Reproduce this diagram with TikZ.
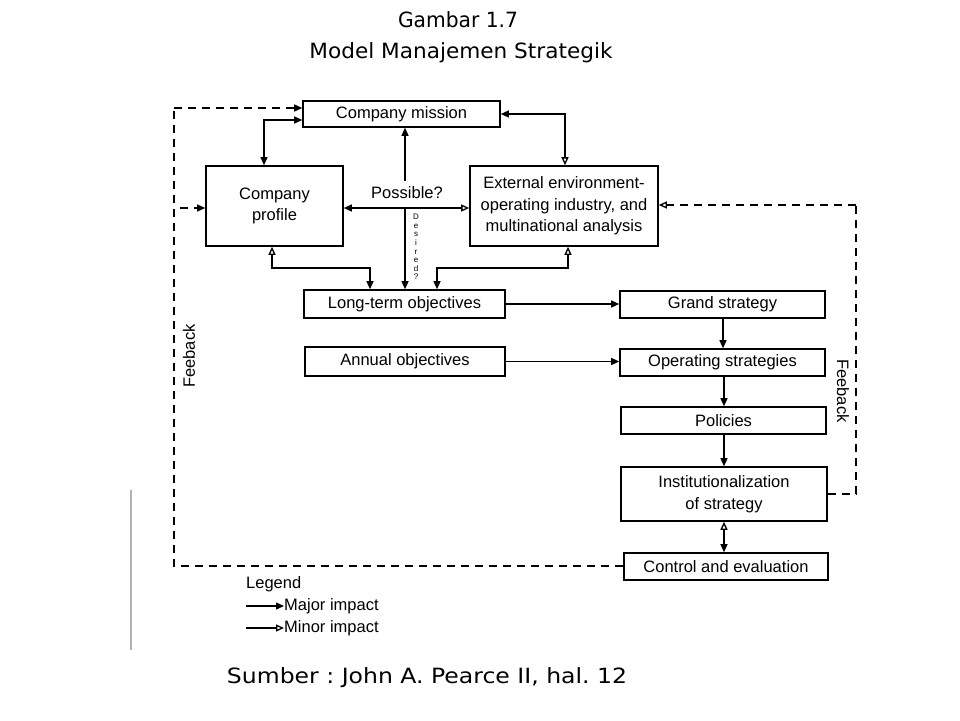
\documentclass[tikz,border=0pt]{standalone}
\usepackage{fontspec}
\setmainfont{Liberation Sans}
\newfontfamily\titlefont{DejaVu Sans}
\usetikzlibrary{arrows.meta}
\frenchspacing
\begin{document}
\begin{tikzpicture}[x=1pt,y=-1pt,
  box/.style={draw,line width=1.6pt,inner sep=0pt,align=center,font=\fontsize{16.5}{21.5}\selectfont},
  conn/.style={line width=1.3pt},
  maj/.style={conn,-{Triangle[length=8pt,width=7pt]}},
  minr/.style={conn,-{Triangle[open,length=8pt,width=7pt]}},
  fb/.style={conn,dash pattern=on 8pt off 6pt},
  lbl/.style={font=\fontsize{16.5}{19}\selectfont,inner sep=0pt},
  ttl/.style={font=\titlefont\fontsize{21}{25}\selectfont,inner sep=0pt}
]
\useasboundingbox (0,0) rectangle (960,720);
% titles
\node[ttl] (t1) at (458,20) {\resizebox{120pt}{\height}{Gambar 1.7}};
\node[ttl] (t2) at (461,53) {\resizebox{303pt}{\height}{Model Manajemen Strategik}};
\node[ttl] (t3) at (427,678) {\resizebox{400pt}{\height}{Sumber : John A. Pearce II, hal. 12}};
% boxes
\node[box,minimum width=197pt,minimum height=26pt] (mission) at (401.5,114) {Company mission};
\node[box,minimum width=137pt,minimum height=80pt] (profile) at (274.5,206) {Company\\profile};
\node[box,minimum width=188pt,minimum height=80pt] (ext) at (564,206) {External environment-\\operating industry, and\\multinational analysis};
\node[box,minimum width=201pt,minimum height=28pt] (lto) at (404.5,304) {Long-term objectives};
\node[box,minimum width=200pt,minimum height=29pt] (annual) at (405,361.5) {Annual objectives};
\node[box,minimum width=205pt,minimum height=27pt] (grand) at (722.5,304.5) {Grand strategy};
\node[box,minimum width=205pt,minimum height=27pt] (oper) at (722.5,362.5) {Operating strategies};
\node[box,minimum width=205pt,minimum height=27pt] (pol) at (723.5,420.5) {Policies};
\node[box,minimum width=206pt,minimum height=54pt] (inst) at (724,494) {Institutionalization\\of strategy};
\node[box,minimum width=204pt,minimum height=27pt] (ctrl) at (726,566.5) {Control and evaluation};
% mission <-> profile
\draw[conn,{Triangle[length=8pt,width=7pt]}-{Triangle[length=8pt,width=7pt]}] (profile.north -| 264,0) |- (mission.west |- 0,120);
% mission <-> external
\draw[conn,{Triangle[length=8pt,width=7pt]}-{Triangle[open,length=8pt,width=7pt]}] (mission.east) -| (ext.north -| 565,0);
% possible / desired
\coordinate (J) at (405,208);
\coordinate (pup) at (405,181);
\node[lbl] (poss) at (407,193) {Possible?};
\draw[maj] (pup) -- (mission.south -| pup);
\draw[conn,{Triangle[length=8pt,width=7pt]}-{Triangle[open,length=8pt,width=7pt]}] (profile.east |- J) -- (ext.west |- J);
\draw[maj] (J) -- (lto.north -| J);
\node[font=\fontsize{8}{8.6}\selectfont,inner sep=0pt,align=center] (des) at (416,247) {D\\e\\s\\i\\r\\e\\d\\?};
% profile / external to long-term
\coordinate (pa) at (272,268);
\coordinate (pb) at (370,268);
\draw[conn,{Triangle[open,length=8pt,width=7pt]}-{Triangle[length=8pt,width=7pt]}] (profile.south -| pa) -- (pa) -- (pb) -- (lto.north -| pb);
\coordinate (ea) at (568,268);
\coordinate (eb) at (437,268);
\draw[conn,{Triangle[open,length=8pt,width=7pt]}-{Triangle[length=8pt,width=7pt]}] (ext.south -| ea) -- (ea) -- (eb) -- (lto.north -| eb);
% objectives to strategies
\draw[maj] (lto.east) -- (grand.west |- lto.east);
\draw[maj] (annual.east) -- (oper.west |- annual.east);
% chain
\draw[maj] (grand.south -| 723,0) -- (oper.north -| 723,0);
\draw[maj] (oper.south -| 724,0) -- (pol.north -| 724,0);
\draw[maj] (pol.south -| 724,0) -- (inst.north -| 724,0);
\draw[conn,{Triangle[open,length=8pt,width=7pt]}-{Triangle[length=8pt,width=7pt]}] (inst.south -| 724,0) -- (ctrl.north -| 724,0);
% left feedback
\coordinate (L1) at (174,566);
\coordinate (L2) at (174,108);
\coordinate (L3) at (180,208);
\draw[fb] (ctrl.west |- L1) -- (L1) -- (L2);
\draw[fb,-{Triangle[length=8pt,width=7pt]}] (L2) -- (mission.west |- L2);
\draw[fb,-{Triangle[length=8pt,width=7pt]}] (L3) -- (profile.west |- L3);
\node[lbl,rotate=90] (fbl) at (189,356) {Feeback};
% right feedback
\coordinate (R1) at (856,494);
\coordinate (R2) at (856,205);
\draw[fb] (inst.east |- R1) -- (R1) -- (R2);
\draw[fb,-{Triangle[open,length=8pt,width=7pt]}] (R2) -- (ext.east |- R2);
\node[lbl,rotate=-90] (fbr) at (843,391) {Feeback};
% legend
\node[lbl,anchor=west] (leg) at (246,584) {Legend};
\coordinate (m1) at (246,606);
\coordinate (m2) at (246,628);
\node[lbl,anchor=west] (majt) at (284,606) {Major impact};
\node[lbl,anchor=west] (mint) at (284,628) {Minor impact};
\draw[maj] (m1) -- (majt.west);
\draw[minr] (m2) -- (mint.west);
% scan edge
\draw[gray!60,line width=1.5pt] (131,490) -- (131,650);
\end{tikzpicture}
\end{document}
